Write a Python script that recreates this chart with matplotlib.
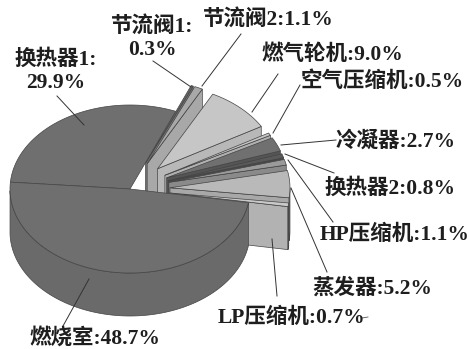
import numpy as np
import matplotlib
matplotlib.use("Agg")
import matplotlib.pyplot as plt
from matplotlib.patches import Polygon

plt.rcParams['font.family'] = ['Liberation Serif', 'Noto Sans CJK SC', 'DejaVu Sans']

# counter-clockwise from the start angle
names = ['燃烧室', 'LP压缩机', '蒸发器', 'HP压缩机', '换热器2', '冷凝器',
         '空气压缩机', '燃气轮机', '节流阀2', '节流阀1', '换热器1']
values = [48.7, 0.7, 5.2, 1.1, 0.8, 2.7, 0.5, 9.0, 1.1, 0.3, 29.9]
exploded = [0, 1, 1, 1, 1, 1, 1, 1, 1, 1, 0]
top_colors = ['#6f6f6f', '#c9c9c9', '#b9b9b9', '#9a9a9a', '#5a5a5a', '#707070',
              '#c4c4c4', '#c6c6c6', '#a9a9a9', '#666666', '#6f6f6f']
side_colors = ['#6a6a6a', '#b2b2b2', '#a8a8a8', '#8a8a8a', '#4a4a4a', '#555555',
               '#b0b0b0', '#b8b8b8', '#a8a8a8', '#777777', '#666666']

label_text = ['燃烧室:48.7%', 'LP压缩机:0.7%', '蒸发器:5.2%', 'HP压缩机:1.1%', '换热器2:0.8%',
              '冷凝器:2.7%', '空气压缩机:0.5%', '燃气轮机:9.0%', '节流阀2:1.1%',
              '节流阀1:\n0.3%', '换热器1:\n29.9%']
label_pos = [(95, 338), (292, 318), (372, 288), (395, 235), (390, 189),
             (396, 141), (382, 82), (332, 55), (268, 19), (152, 38), (56, 71)]
leaders = [((63, 326), (89, 279)), ((277, 296), (272, 239)), ((327, 272), (291, 188)),
           ((333, 222), (288, 160)), ((334, 173), (285, 154)), ((336, 140), (281, 145)),
           ((300, 85), (273, 133)), ((278, 74), (252, 112)), ((241, 34), (202, 86)),
           ((153, 61), (191, 87)), ((57, 96), (84, 125))]

cx, cy = 130, 189
rx, ry = 120, 84
depth = 43
explode = 40
start_angle = -184.7
edge = '#444444'


def point(theta, off, r=1.0):
    return (off[0] + cx + rx * r * np.cos(theta), off[1] + cy - ry * r * np.sin(theta))


fig = plt.figure(figsize=(4.69, 3.49), dpi=100)
ax = fig.add_axes([0, 0, 1, 1])
ax.set_xlim(0, 469)
ax.set_ylim(349, 0)
ax.axis('off')

# angles of every slice
edges = start_angle + 360 * np.cumsum([0] + values) / sum(values)
edges = np.radians(edges)

# back slices first, the front slice (燃烧室) goes last
for i in list(range(len(values) - 1, 0, -1)) + [0]:
    a0, a1 = edges[i], edges[i + 1]
    mid = (a0 + a1) / 2
    off = (exploded[i] * explode * np.cos(mid), -exploded[i] * explode * np.sin(mid) * ry / rx)
    th = np.linspace(a0, a1, 120)
    arc = np.array([point(t, off) for t in th])
    apex = np.array(point(0, off, 0))

    # cut face on the start side
    if exploded[i] and np.cos(a0) > 0:
        p = np.array(point(a0, off))
        face = [apex, p, p + [0, depth], apex + [0, depth]]
        ax.add_patch(Polygon(face, closed=True, fc=side_colors[i], ec=edge, lw=0.5))

    # outer wall, only the part facing the viewer
    front = np.sin(th) <= 0
    if front.sum() > 1:
        rim = arc[front]
        wall = np.vstack([rim, rim[::-1] + [0, depth]])
        ax.add_patch(Polygon(wall, closed=True, fc=side_colors[i], ec=edge, lw=0.5))

    ax.add_patch(Polygon(np.vstack([apex, arc]), closed=True, fc=top_colors[i], ec=edge, lw=0.5))

for (p0, p1) in leaders:
    ax.plot([p0[0], p1[0]], [p0[1], p1[1]], color='#333333', lw=0.7, zorder=5)
ax.plot([362, 368], [318, 317], color='#555555', lw=0.6, zorder=5)

for txt, pos in zip(label_text, label_pos):
    ax.text(pos[0], pos[1], txt, ha='center', va='center', fontsize=15.5, fontweight='bold',
            color='#1e1e1e', linespacing=1.22, zorder=6)

fig.savefig('out.png', dpi=100, facecolor='white')
